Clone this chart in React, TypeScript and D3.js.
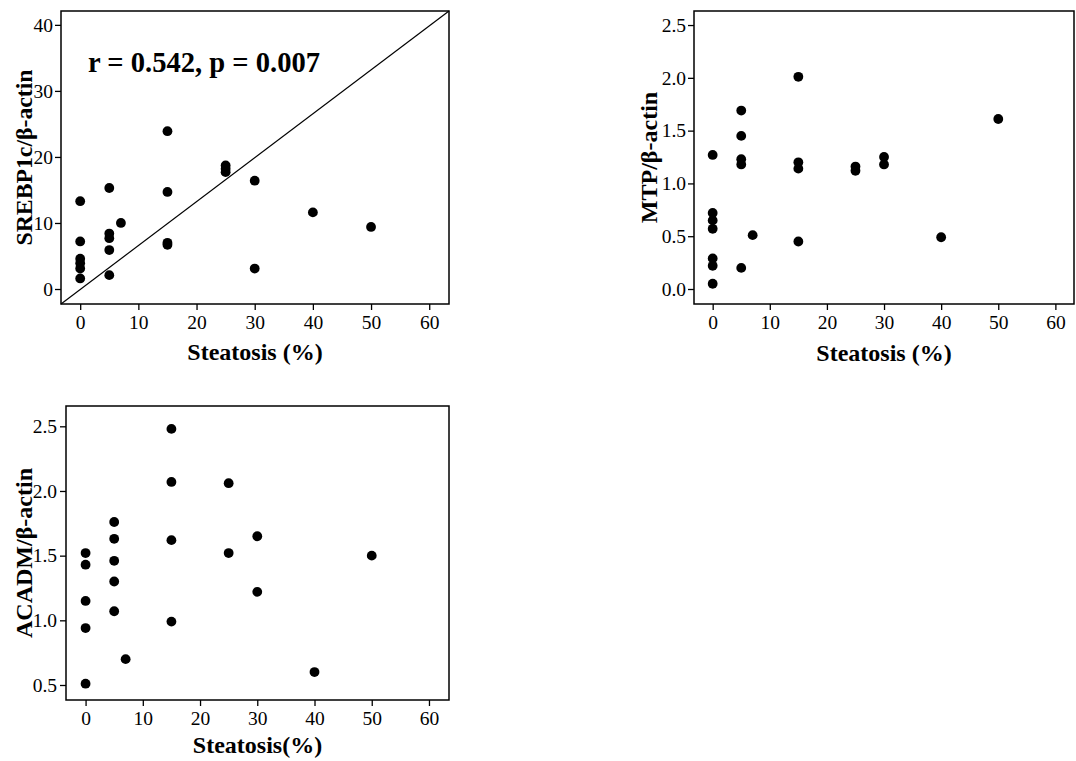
import React, { useRef, useEffect } from "react";
import * as d3 from "d3";

// steatosis (%) vs. expression ratio, one pair of arrays per panel
const steatosisSrebp = [0, 0, 0, 0, 0, 0, 5, 5, 5, 5, 5, 7, 15, 15, 15, 15, 25, 25, 25, 30, 30, 40, 50];
const srebp = [13.3, 7.2, 4.6, 3.9, 3.1, 1.6, 15.3, 8.4, 7.7, 5.9, 2.1, 10.0, 23.9, 14.7, 7.0, 6.7, 18.7, 18.2, 17.7, 16.4, 3.1, 11.6, 9.4];

const steatosisMtp = [0, 0, 0, 0, 0, 0, 0, 5, 5, 5, 5, 5, 7, 15, 15, 15, 15, 25, 25, 30, 30, 40, 50];
const mtp = [1.27, 0.72, 0.65, 0.57, 0.29, 0.22, 0.05, 1.69, 1.45, 1.23, 1.18, 0.2, 0.51, 2.01, 1.2, 1.14, 0.45, 1.16, 1.12, 1.25, 1.18, 0.49, 1.61];

const steatosisAcadm = [0, 0, 0, 0, 0, 5, 5, 5, 5, 5, 7, 15, 15, 15, 15, 25, 25, 30, 30, 40, 50];
const acadm = [1.52, 1.43, 1.15, 0.94, 0.51, 1.76, 1.63, 1.46, 1.3, 1.07, 0.7, 2.48, 2.07, 1.62, 0.99, 2.06, 1.52, 1.65, 1.22, 0.6, 1.5];

const steatosisTicks = [0, 10, 20, 30, 40, 50, 60];
const srebpTicks = [0, 10, 20, 30, 40];
const mtpTicks = [0, 0.5, 1, 1.5, 2, 2.5];
const acadmTicks = [0.5, 1, 1.5, 2, 2.5];

const correlationNote = "r = 0.542, p = 0.007";

const FONT = "'Liberation Serif', 'Times New Roman', Times, serif";

type Box = { left: number; top: number; right: number; bottom: number };

type PanelProps = {
  box: Box;
  xDomain: [number, number];
  yDomain: [number, number];
  xs: number[];
  ys: number[];
  yTicks: number[];
  yFormat: string;
  yPad: number;
  xTitle: string;
  yTitle: string;
  xTitleY: number;
  yTitleX: number;
  yTitleLength?: number;
  diagonal?: boolean;
  note?: string;
};

const Panel = ({ box, xDomain, yDomain, xs, ys, yTicks, yFormat, yPad, xTitle, yTitle, xTitleY, yTitleX, yTitleLength, diagonal, note }: PanelProps) => {
  const ref = useRef<SVGGElement>(null);

  useEffect(() => {
    const g = d3.select(ref.current);
    g.selectAll("*").remove();

    const x = d3.scaleLinear().domain(xDomain).range([box.left, box.right]);
    const y = d3.scaleLinear().domain(yDomain).range([box.bottom, box.top]);

    const xAxis = g
      .append("g")
      .attr("transform", `translate(0,${box.bottom})`)
      .call(d3.axisBottom(x).tickValues(steatosisTicks).tickSize(6).tickPadding(5).tickFormat(d3.format("d")));
    const yAxis = g
      .append("g")
      .attr("transform", `translate(${box.left},0)`)
      .call(d3.axisLeft(y).tickValues(yTicks).tickSize(6).tickPadding(yPad).tickFormat(d3.format(yFormat)));

    [xAxis, yAxis].forEach((a) => {
      a.select(".domain").remove();
      a.attr("font-family", FONT).attr("font-size", 19.5);
      a.selectAll("line").attr("stroke", "#000").attr("stroke-width", 1.3);
      a.selectAll("text").attr("fill", "#000");
    });

    if (diagonal) {
      g.append("line")
        .attr("x1", x(xDomain[0]))
        .attr("y1", y(yDomain[0]))
        .attr("x2", x(xDomain[1]))
        .attr("y2", y(yDomain[1]))
        .attr("stroke", "#000")
        .attr("stroke-width", 1.2);
    }

    g.append("g")
      .selectAll("circle")
      .data(xs)
      .join("circle")
      .attr("cx", (d) => x(d))
      .attr("cy", (d, i) => y(ys[i]))
      .attr("r", 4.9)
      .attr("fill", "#000");

    g.append("rect")
      .attr("x", box.left)
      .attr("y", box.top)
      .attr("width", box.right - box.left)
      .attr("height", box.bottom - box.top)
      .attr("fill", "none")
      .attr("stroke", "#000")
      .attr("stroke-width", 1.5);

    if (note) {
      g.append("text")
        .attr("x", box.left + 27)
        .attr("y", box.top + 61)
        .attr("font-family", FONT)
        .attr("font-size", 30)
        .attr("font-weight", "bold")
        .attr("textLength", 232)
        .attr("lengthAdjust", "spacingAndGlyphs")
        .text(note);
    }

    g.append("text")
      .attr("x", (box.left + box.right) / 2)
      .attr("y", xTitleY)
      .attr("text-anchor", "middle")
      .attr("font-family", FONT)
      .attr("font-size", 24)
      .attr("font-weight", "bold")
      .text(xTitle);

    const yt = g
      .append("text")
      .attr("transform", `translate(${yTitleX},${(box.top + box.bottom) / 2}) rotate(-90)`)
      .attr("text-anchor", "middle")
      .attr("font-family", FONT)
      .attr("font-size", 24)
      .attr("font-weight", "bold")
      .text(yTitle);
    if (yTitleLength) {
      yt.attr("textLength", yTitleLength).attr("lengthAdjust", "spacingAndGlyphs");
    }
  }, []);

  return <g ref={ref} />;
};

export default function App() {
  return (
    <div style={{ position: "absolute", left: 0, top: 0 }}>
      <svg width={1076} height={761} style={{ display: "block", background: "#fff" }}>
        <Panel
          box={{ left: 61, top: 11, right: 449, bottom: 304 }}
          xDomain={[-3.3, 63.4]}
          yDomain={[-2.27, 42.1]}
          xs={steatosisSrebp}
          ys={srebp}
          yTicks={srebpTicks}
          yFormat="d"
          yPad={2}
          xTitle="Steatosis (%)"
          yTitle="SREBP1c/β-actin"
          xTitleY={360}
          yTitleX={32}
          yTitleLength={176}
          diagonal
          note={correlationNote}
        />
        <Panel
          box={{ left: 694, top: 11, right: 1074, bottom: 304 }}
          xDomain={[-3.27, 63.26]}
          yDomain={[-0.142, 2.633]}
          xs={steatosisMtp}
          ys={mtp}
          yTicks={mtpTicks}
          yFormat=".1f"
          yPad={2}
          xTitle="Steatosis (%)"
          yTitle="MTP/β-actin"
          xTitleY={361}
          yTitleX={657}
        />
        <Panel
          box={{ left: 66, top: 406, right: 449, bottom: 700 }}
          xDomain={[-3.42, 63.5]}
          yDomain={[0.384, 2.657]}
          xs={steatosisAcadm}
          ys={acadm}
          yTicks={acadmTicks}
          yFormat=".1f"
          yPad={3}
          xTitle="Steatosis(%)"
          yTitle="ACADM/β-actin"
          xTitleY={753}
          yTitleX={32}
        />
      </svg>
    </div>
  );
}
